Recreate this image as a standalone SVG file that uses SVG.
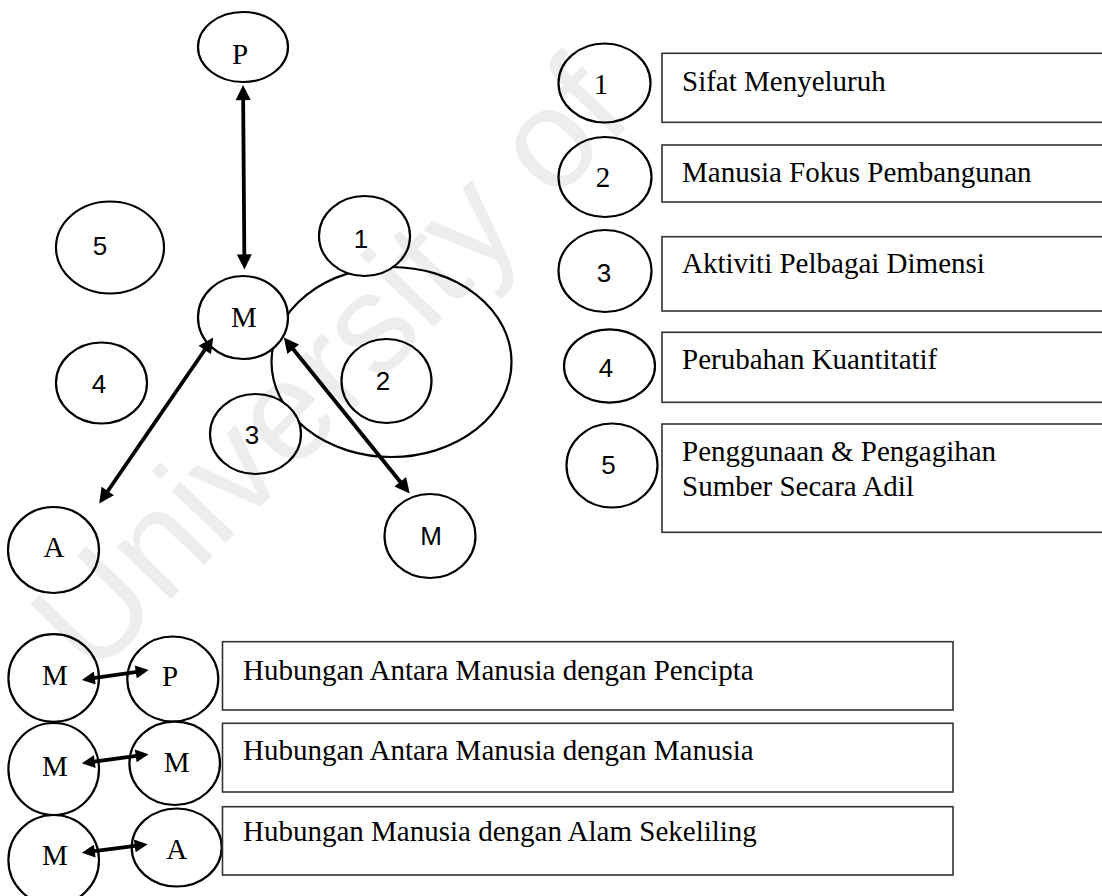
<svg xmlns="http://www.w3.org/2000/svg" width="1102" height="896" viewBox="0 0 1102 896">
<style>
.n ellipse{fill:#fff;stroke:#000;stroke-width:2.2}
.big{fill:none;stroke:#000;stroke-width:2.2}
.box rect{fill:#fff;stroke:#333;stroke-width:1.6}
.tr{font-family:"Liberation Serif","Times New Roman",serif;font-size:29px;fill:#000}
.sa{font-family:"Liberation Sans",Arial,sans-serif;font-size:26px;fill:#000}
.c{text-anchor:middle}
.conn line{stroke:#000;stroke-width:3.8;marker-start:url(#ah);marker-end:url(#ah)}
.conn .s line{marker-start:url(#ahs);marker-end:url(#ahs)}
.wm{font-family:"Liberation Sans",Arial,sans-serif;font-size:142px;fill:#000;fill-opacity:0.07}
</style>
<defs>
<marker id="ah" viewBox="0 0 10 10" refX="6.4" refY="5" markerUnits="userSpaceOnUse" markerWidth="17" markerHeight="15" orient="auto-start-reverse">
<path d="M0,0 L10,5 L0,10 z" fill="#000"/>
</marker>
<marker id="ahs" viewBox="0 0 10 10" refX="6.4" refY="5" markerUnits="userSpaceOnUse" markerWidth="16" markerHeight="13" orient="auto-start-reverse">
<path d="M0,0 L10,5 L0,10 z" fill="#000"/>
</marker>
</defs>
<rect width="1102" height="896" fill="#fff"/>

<!-- left diagram -->
<ellipse id="outer-ellipse" class="big" cx="391.5" cy="362" rx="120" ry="95"/>
<g id="node-P" class="n"><ellipse cx="243" cy="47" rx="45" ry="35"/><text class="tr c" x="240" y="64">P</text></g>
<g id="node-5" class="n"><ellipse cx="110" cy="247.5" rx="54" ry="46"/><text class="sa c" x="100" y="255">5</text></g>
<g id="node-1" class="n"><ellipse cx="364.5" cy="236" rx="45.5" ry="40"/><text class="sa c" x="361" y="248">1</text></g>
<g id="node-M" class="n"><ellipse cx="243" cy="317.5" rx="45" ry="41.5"/><text class="tr c" x="244" y="327">M</text></g>
<g id="node-2" class="n"><ellipse cx="386.5" cy="381" rx="45" ry="42"/><text class="sa c" x="383" y="390">2</text></g>
<g id="node-4" class="n"><ellipse cx="101.5" cy="383" rx="45.5" ry="40.5"/><text class="sa c" x="99" y="393">4</text></g>
<g id="node-3" class="n"><ellipse cx="255.5" cy="434" rx="45.5" ry="40"/><text class="sa c" x="252" y="444">3</text></g>
<g id="node-A" class="n"><ellipse cx="53.5" cy="550" rx="45.5" ry="43"/><text class="tr c" x="54" y="557">A</text></g>
<g id="node-M2" class="n"><ellipse cx="430" cy="536" rx="45.5" ry="42"/><text class="sa c" x="431" y="545">M</text></g>

<!-- legend -->
<g id="legend-1" class="n box"><ellipse cx="604.5" cy="83" rx="46" ry="39.5"/><rect x="662" y="53.3" width="460" height="69"/><text class="tr c" x="601" y="94">1</text><text class="tr" x="682" y="91">Sifat Menyeluruh</text></g>
<g id="legend-2" class="n box"><ellipse cx="605" cy="177" rx="46.5" ry="40"/><rect x="662" y="145" width="460" height="57"/><text class="tr c" x="603" y="187">2</text><text class="tr" x="682" y="182">Manusia Fokus Pembangunan</text></g>
<g id="legend-3" class="n box"><ellipse cx="605" cy="271" rx="46.5" ry="41"/><rect x="662" y="236.7" width="460" height="74.3"/><text class="sa c" x="604" y="282">3</text><text class="tr" x="682" y="273">Aktiviti Pelbagai Dimensi</text></g>
<g id="legend-4" class="n box"><ellipse cx="609.5" cy="366" rx="45.5" ry="36.7"/><rect x="662" y="332.3" width="460" height="70"/><text class="sa c" x="606" y="377">4</text><text class="tr" x="682" y="369">Perubahan Kuantitatif</text></g>
<g id="legend-5" class="n box"><ellipse cx="612" cy="465.5" rx="45.5" ry="42"/><rect x="662" y="424" width="460" height="108.3"/><text class="sa c" x="608.5" y="474">5</text><text class="tr" x="682" y="461">Penggunaan &amp; Pengagihan</text><text class="tr" x="682" y="496">Sumber Secara Adil</text></g>

<!-- bottom key -->
<g id="key-MP" class="n box"><ellipse cx="53.7" cy="678" rx="45.3" ry="43.8"/><ellipse cx="172.8" cy="679" rx="45.5" ry="42.5"/><rect x="222.5" y="641.7" width="730.5" height="68.3"/><text class="tr c" x="55" y="685">M</text><text class="tr c" x="170" y="686">P</text><text class="tr" x="243" y="680">Hubungan Antara Manusia dengan Pencipta</text></g>
<g id="key-MM" class="n box"><ellipse cx="53.7" cy="769" rx="45.3" ry="46"/><ellipse cx="174.7" cy="763.3" rx="45.3" ry="41.7"/><rect x="222.5" y="723.3" width="730.5" height="68.7"/><text class="tr c" x="55" y="776">M</text><text class="tr c" x="176.7" y="772">M</text><text class="tr" x="243" y="760">Hubungan Antara Manusia dengan Manusia</text></g>
<g id="key-MA" class="n box"><ellipse cx="53.7" cy="860" rx="45.3" ry="45"/><ellipse cx="176.7" cy="847.5" rx="45" ry="39"/><rect x="222.5" y="806.7" width="730.5" height="68.3"/><text class="tr c" x="55" y="865">M</text><text class="tr c" x="176.7" y="859">A</text><text class="tr" x="243" y="841">Hubungan Manusia dengan Alam Sekeliling</text></g>

<!-- connectors -->
<g id="connectors" class="conn">
<line x1="243.1" y1="90.5" x2="244.4" y2="264"/>
<line x1="210.2" y1="342" x2="102.3" y2="499"/>
<line x1="287.2" y1="341.7" x2="406.3" y2="489.3"/>
<g class="s">
<line x1="86.5" y1="679.2" x2="144" y2="670.8"/>
<line x1="86.5" y1="762.7" x2="144" y2="754.8"/>
<line x1="86.5" y1="852.2" x2="143" y2="844.8"/>
</g>
</g>

<text class="wm" transform="translate(93,680) rotate(-46)">University of</text>
</svg>
